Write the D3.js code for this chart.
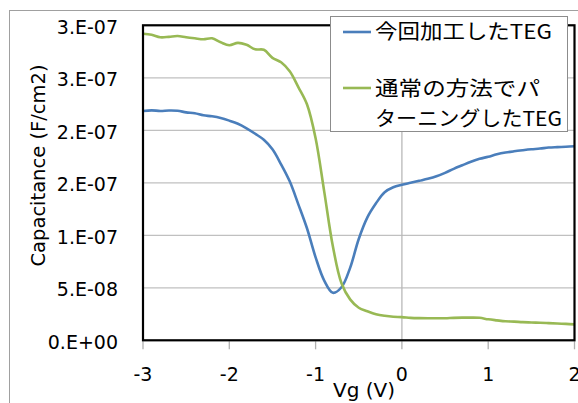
<!DOCTYPE html>
<html><head><meta charset="utf-8">
<script src="https://cdn.jsdelivr.net/npm/d3@7"></script>
<style>html,body{margin:0;padding:0;background:#fff;overflow:hidden}</style>
</head><body>
<svg id="c" width="578" height="403"></svg>
<script>
// Gate voltage (V)
const vg = [-3.0,-2.9,-2.8,-2.7,-2.6,-2.5,-2.4,-2.3,-2.2,-2.1,
            -2.0,-1.9,-1.8,-1.7,-1.6,-1.5,-1.4,-1.3,-1.2,-1.1,
            -1.0,-0.9,-0.8,-0.7,-0.6,-0.5,-0.4,-0.3,-0.2,-0.1,
             0.0, 0.1, 0.2, 0.3, 0.4, 0.5, 0.6, 0.7, 0.8, 0.9,
             1.0, 1.1, 1.2, 1.3, 1.4, 1.5, 1.6, 1.7, 1.8, 1.9, 2.0];
const seriesNames = ["今回加工したTEG", "通常の方法でパターニングしたTEG"];
// Capacitance in units of 1e-8 F/cm2
const capNew = [21.84,21.90,21.84,21.88,21.86,21.71,21.62,21.43,21.33,21.17,
                20.92,20.62,20.19,19.67,19.10,18.19,16.76,15.14,12.95,10.67,
                7.90,5.69,4.52,5.05,6.90,9.65,11.71,13.05,14.10,14.57,
                14.81,15.00,15.19,15.38,15.62,15.95,16.33,16.67,17.00,17.28,
                17.48,17.71,17.88,18.00,18.10,18.19,18.26,18.36,18.40,18.43,18.48];
const capConv = [29.19,29.10,28.86,28.90,28.98,28.86,28.76,28.67,28.76,28.38,
                 28.10,28.33,28.14,27.71,27.67,26.90,26.48,25.62,24.12,22.48,
                 19.24,14.16,8.95,5.43,3.90,3.10,2.76,2.48,2.33,2.24,
                 2.21,2.14,2.11,2.10,2.10,2.10,2.14,2.16,2.16,2.14,
                 2.00,1.90,1.81,1.78,1.73,1.70,1.67,1.64,1.60,1.56,1.52];
const xTicks = [-3,-2,-1,0,1,2];
const yTicks = [0,5e-8,1e-7,1.5e-7,2e-7,2.5e-7,3e-7];
const yTickLabels = ["0.E+00","5.E-08","1.E-07","2.E-07","2.E-07","3.E-07","3.E-07"];
const colors = ["#4a7ebb","#98b954"];

const svg = d3.select("#c");
const x = d3.scaleLinear().domain([-3,2]).range([143,574.5]);
const y = d3.scaleLinear().domain([0,3e-7]).range([340.3,25.3]);
const FONT = "'DejaVu Sans', sans-serif";
const CJK = "'Noto Sans CJK JP', sans-serif";

// outer chart border
svg.append("rect").attr("x",9.5).attr("y",10.5).attr("width",620).attr("height",420)
  .attr("fill","none").attr("stroke","#a0a0a0").attr("stroke-width",1);

// gridlines
svg.append("g").selectAll("line").data(yTicks).join("line")
  .attr("x1",x(-3)).attr("x2",x(2)).attr("y1",d=>y(d)).attr("y2",d=>y(d))
  .attr("stroke","#c0c0c0").attr("stroke-width",1.3);
svg.append("line").attr("x1",x(0)).attr("x2",x(0)).attr("y1",y(3e-7)).attr("y2",y(0))
  .attr("stroke","#b8b8b8").attr("stroke-width",1.3);

// x tick marks
svg.append("g").selectAll("line").data(xTicks).join("line")
  .attr("x1",d=>x(d)).attr("x2",d=>x(d)).attr("y1",y(0)+1).attr("y2",y(0)+9)
  .attr("stroke","#b0b0b0").attr("stroke-width",1.3);

// series
const line = d3.line().curve(d3.curveCatmullRom.alpha(0.5));
[capNew, capConv].forEach((vals,i)=>{
  svg.append("path")
    .attr("d", line(vg.map((v,j)=>[x(v), y(vals[j]*1e-8)])))
    .attr("fill","none").attr("stroke",colors[i]).attr("stroke-width",2.6)
    .attr("stroke-linejoin","round");
});

// plot border
svg.append("rect").attr("x",x(-3)).attr("y",y(3e-7)).attr("width",x(2)-x(-3)).attr("height",y(0)-y(3e-7))
  .attr("fill","none").attr("stroke","#000").attr("stroke-width",2.2);

// y tick labels
svg.append("g").selectAll("text").data(yTicks).join("text")
  .attr("x",118).attr("y",d=>y(d)+8.5).attr("text-anchor","end")
  .attr("font-family",FONT).attr("font-size",19).attr("fill","#000")
  .text((d,i)=>yTickLabels[i]);

// x tick labels
svg.append("g").selectAll("text").data(xTicks).join("text")
  .attr("x",d=>x(d)).attr("y",381).attr("text-anchor","middle")
  .attr("font-family",FONT).attr("font-size",19).attr("fill","#000")
  .text(d=>d3.format("d")(d).replace("−","-"));

// axis titles
svg.append("text").attr("transform","translate(45,165.5) rotate(-90)")
  .attr("text-anchor","middle").attr("font-family",FONT).attr("font-size",19.5)
  .text("Capacitance (F/cm2)");
svg.append("text").attr("x",364).attr("y",397).attr("text-anchor","middle")
  .attr("font-family",FONT).attr("font-size",20).text("Vg (V)");

// legend
const lg = svg.append("g");
lg.append("rect").attr("x",330.5).attr("y",16.5).attr("width",237).attr("height",115)
  .attr("fill","#fff").attr("stroke","#8c8c8c").attr("stroke-width",1);
const legendRows = [
  {i:0, ly:32, lines:[[seriesNames[0],39,177]]},
  {i:1, ly:88, lines:[["通常の方法でパ",95.5,165],["ターニングしたTEG",126,187]]}
];
legendRows.forEach(r=>{
  lg.append("line").attr("x1",343).attr("x2",371).attr("y1",r.ly).attr("y2",r.ly)
    .attr("stroke",colors[r.i]).attr("stroke-width",2.6);
  r.lines.forEach(([t,by,w])=>{
    lg.append("text").attr("x",375).attr("y",by)
      .attr("textLength",w).attr("lengthAdjust","spacingAndGlyphs")
      .attr("font-family",CJK).attr("font-size",20.5).attr("fill","#000").text(t);
  });
});
</script>
</body></html>
